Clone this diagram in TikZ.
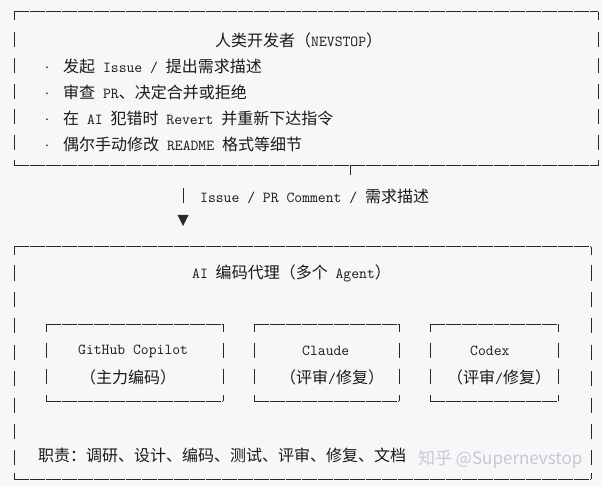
\documentclass[tikz,border=0pt]{standalone}
\usepackage{fontspec}
\newfontfamily\cj{Noto Sans CJK SC}[Scale=1.05]
\newfontfamily\wmfont{Noto Sans CJK SC}
\newcommand\C[1]{{\cj #1}}
\definecolor{bg}{RGB}{247,247,250}
\definecolor{ink}{RGB}{25,25,25}
\definecolor{ln}{RGB}{40,40,40}
\definecolor{wmc}{RGB}{200,200,206}
\newcommand\asciibox[6]{%
  \coordinate (#6-nw) at (#1,#2);
  \coordinate (#6-se) at (#3,#4);
  \coordinate (#6-s) at ({(#1+#3)/2},#4);
  \coordinate (#6-n) at ({(#1+#3)/2},#2);
  \draw[hb] (#1,#2) -- (#3,#2);
  \draw[hb] (#1,#4) -- (#3,#4);
  \foreach \xx in {#1,#3}{%
    \draw[vb] (\xx,#2) -- (\xx,#2+8);
    \draw[vb] (\xx,#4-6) -- (\xx,#4);
    \foreach \cc in {#5}{\draw[vb] (\xx,\cc-7.5) -- (\xx,\cc+7.5);}
  }%
}
\begin{document}
\begin{tikzpicture}[x=1pt,y=-1pt,
  txt/.style={anchor=west,inner sep=0pt,text=ink,font=\ttfamily\fontsize{15.24}{18}\selectfont},
  hb/.style={draw=ln,line width=1pt,dash pattern=on 14.5pt off 1.5pt},
  vb/.style={draw=ln,line width=1pt}]
\fill[bg] (0,0) rectangle (602,486);
\useasboundingbox (0,0) rectangle (602,486);

% boxes
\asciibox{14}{12}{598}{166}{39.5,65.3,91.1,116.9,142.7}{human}
\asciibox{14}{247}{591}{479}{273,299.4,325.8,352.2,378.6,405,431.4,457.8}{agent}
\asciibox{46}{324}{223}{401}{350,376}{copilot}
\asciibox{254}{324}{399}{401}{350,376}{claude}
\asciibox{430}{324}{558}{401}{350,376}{codex}

% connector
\coordinate (tick) at (350,175);
\draw[vb] (350,166) -- (tick);
\coordinate (a1) at (183,188);
\coordinate (a2) at (183,203);
\draw[vb] (a1) -- (a2);
\coordinate (tip) at (183,226);
\fill[ln] (177.5,215) -- (188.5,215) -- (tip) -- cycle;
\node[txt] (lab) at (200,196) {Issue / PR Comment / \C{需求描述}};

% human box text
\node[txt] (h0) at (215,40) {\C{人类开发者（}NEVSTOP\C{）}};
\node[txt] (h1) at (43,66) {\makebox[20pt][l]{·}\C{发起} Issue / \C{提出需求描述}};
\node[txt] (h2) at (43,92) {\makebox[20pt][l]{·}\C{审查} PR\C{、决定合并或拒绝}};
\node[txt] (h3) at (43,118) {\makebox[20pt][l]{·}\C{在} AI \C{犯错时} Revert \C{并重新下达指令}};
\node[txt] (h4) at (43,144) {\makebox[20pt][l]{·}\C{偶尔手动修改} README \C{格式等细节}};

% agent box text
\node[txt] (g0) at (192,273) {AI \C{编码代理（多个} Agent\C{）}};
\node[txt] (cp1) at (78,351) {GitHub Copilot};
\node[txt] (cp2) at (80,377) {\C{（主力编码）}};
\node[txt] (cl1) at (302,351) {Claude};
\node[txt] (cl2) at (280,377) {\C{（评审}/\C{修复）}};
\node[txt] (cx1) at (470,351) {Codex};
\node[txt] (cx2) at (447,377) {\C{（评审}/\C{修复）}};
\node[txt] (duty) at (38,455) {\C{职责：调研、设计、编码、测试、评审、修复、文档}};

% watermark
\node[anchor=west,inner sep=0pt,text=wmc,font=\wmfont\fontsize{17}{20}\selectfont] (wm) at (418,459) {知乎 @Supernevstop};
\end{tikzpicture}
\end{document}
